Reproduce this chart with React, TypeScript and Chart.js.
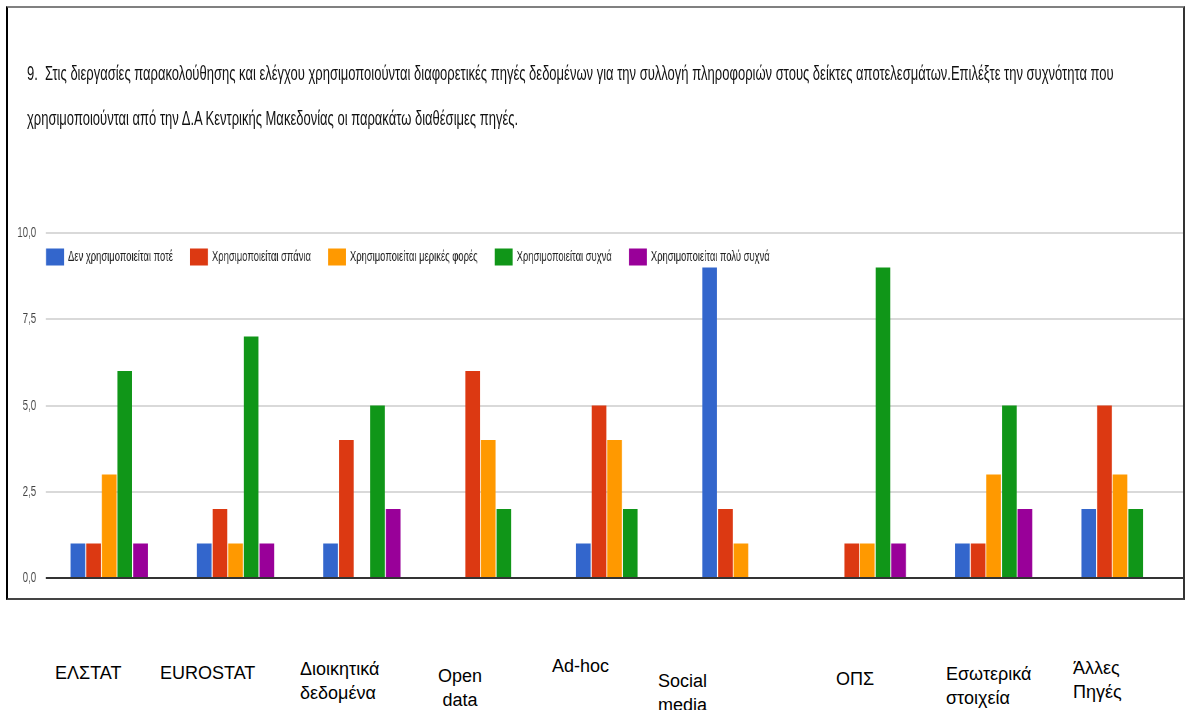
import React, { useEffect, useRef } from 'react';
import { Chart, registerables } from 'chart.js';

Chart.register(...registerables);

// ---------- data ----------
const CATEGORIES: string[][] = [
  ['ΕΛΣΤΑΤ'],
  ['EUROSTAT'],
  ['Διοικητικά', 'δεδομένα'],
  ['Open', 'data'],
  ['Ad-hoc'],
  ['Social', 'media'],
  ['ΟΠΣ'],
  ['Εσωτερικά', 'στοιχεία'],
  ['Άλλες', 'Πηγές'],
];
const SERIES_NAMES = [
  'Δεν χρησιμοποιείται ποτέ',
  'Χρησιμοποιείται σπάνια',
  'Χρησιμοποιείται μερικές φορές',
  'Χρησιμοποιείται συχνά',
  'Χρησιμοποιείται πολύ συχνά',
];
const NEVER = [1, 1, 1, 0, 1, 9, 0, 1, 2];
const RARELY = [1, 2, 4, 6, 5, 2, 1, 1, 5];
const SOMETIMES = [3, 1, 0, 4, 4, 1, 1, 3, 3];
const OFTEN = [6, 7, 5, 2, 2, 0, 9, 5, 2];
const VERY_OFTEN = [1, 1, 2, 0, 0, 0, 1, 2, 0];
const Y_TICKS = [0, 2.5, 5, 7.5, 10];
const TITLE_LINES = [
  '9.  Στις διεργασίες παρακολούθησης και ελέγχου χρησιμοποιούνται διαφορετικές πηγές δεδομένων για την συλλογή πληροφοριών στους δείκτες αποτελεσμάτων.Επιλέξτε την συχνότητα που',
  'χρησιμοποιούνται από την Δ.Α Κεντρικής Μακεδονίας οι παρακάτω διαθέσιμες πηγές.',
];

// ---------- styling / layout ----------
const COLORS = ['#3366cc', '#dc3912', '#ff9900', '#109618', '#990099'];
const FONT = "'Liberation Sans', Arial, sans-serif";
const SX = 0.65; // horizontal condensation of the chart drawing
const CSS_W = 1175;
const CSS_H = 590;
const CANVAS_W = Math.round(CSS_W / SX);
const PLOT_LEFT_CSS = 38;
const PLOT_TOP = 225;
const PLOT_BOTTOM_PAD = 20;

// positions of the category captions under the box (page px)
const CAPTION_POS = [
  { left: 55, top: 661, center: false },
  { left: 160, top: 661, center: false },
  { left: 300, top: 657, center: false },
  { left: 420, top: 664, center: true },
  { left: 552, top: 654, center: false },
  { left: 658, top: 669, center: false },
  { left: 836, top: 667, center: false },
  { left: 946, top: 662, center: false },
  { left: 1073, top: 656, center: false },
];

const inlineLegend = {
  id: 'inlineLegend',
  afterDatasetsDraw(chart: any) {
    const { ctx, chartArea } = chart;
    const boxW = 18 / SX;
    const boxH = 17;
    const textGap = 4 / SX;
    const itemGap = 17 / SX;
    const cy = chartArea.top + 24;
    let x = chartArea.left;
    ctx.save();
    ctx.font = `14.5px ${FONT}`;
    ctx.textBaseline = 'middle';
    ctx.textAlign = 'left';
    chart.data.datasets.forEach((ds: any) => {
      ctx.fillStyle = ds.backgroundColor;
      ctx.fillRect(x, cy - boxH / 2, boxW, boxH);
      x += boxW + textGap;
      ctx.fillStyle = '#222222';
      ctx.fillText(ds.label, x, cy);
      x += ctx.measureText(ds.label).width + itemGap;
    });
    ctx.restore();
  },
};

export default function App() {
  const canvasRef = useRef<HTMLCanvasElement | null>(null);

  useEffect(() => {
    const canvas = canvasRef.current;
    if (!canvas) return;
    const seriesValues = [NEVER, RARELY, SOMETIMES, OFTEN, VERY_OFTEN];
    const chart = new Chart(canvas, {
      type: 'bar',
      data: {
        labels: CATEGORIES,
        datasets: SERIES_NAMES.map((name, i) => ({
          label: name,
          data: seriesValues[i],
          backgroundColor: COLORS[i],
          borderWidth: 0,
          categoryPercentage: 0.618,
          barPercentage: 0.94,
        })),
      },
      options: {
        animation: false,
        responsive: false,
        devicePixelRatio: 1,
        layout: { padding: { top: PLOT_TOP, bottom: PLOT_BOTTOM_PAD, left: 0, right: 0 } },
        plugins: {
          legend: { display: false },
          title: { display: false },
          tooltip: { enabled: false },
        },
        scales: {
          x: {
            display: false,
            grid: { display: false },
          },
          y: {
            min: 0,
            max: 10,
            afterFit: (scale: any) => {
              scale.width = PLOT_LEFT_CSS / SX;
            },
            afterBuildTicks: (scale: any) => {
              scale.ticks = Y_TICKS.map((v) => ({ value: v }));
            },
            border: { display: false },
            grid: {
              drawTicks: false,
              color: (ctx: any) => (ctx.tick && ctx.tick.value === 0 ? '#333333' : '#d9d9d9'),
              lineWidth: 2,
            },
            ticks: {
              padding: 15,
              color: '#444444',
              font: { size: 15, family: FONT, lineHeight: 0.6 },
              callback: (v: any) => Number(v).toFixed(1).replace('.', ','),
            },
          },
        },
      },
      plugins: [inlineLegend],
    });
    return () => chart.destroy();
  }, []);

  return (
    <div
      style={{
        position: 'fixed',
        left: 0,
        top: 0,
        width: 1186,
        height: 710,
        overflow: 'hidden',
        background: '#ffffff',
      }}
    >
      <div
        style={{
          position: 'absolute',
          left: 6,
          top: 6,
          width: CSS_W,
          height: CSS_H,
          borderTop: '2px solid #808080',
          borderLeft: '2px solid #000000',
          borderRight: '2px solid #333333',
          borderBottom: '2px solid #444444',
          overflow: 'hidden',
        }}
      >
        <canvas
          ref={canvasRef}
          width={CANVAS_W}
          height={CSS_H}
          style={{
            position: 'absolute',
            left: 0,
            top: 0,
            transform: `scaleX(${SX})`,
            transformOrigin: '0 0',
          }}
        />
      </div>
      <div
        style={{
          position: 'absolute',
          left: 27,
          top: 51,
          fontFamily: FONT,
          fontSize: 20,
          lineHeight: '45px',
          color: '#111111',
          whiteSpace: 'pre',
          transform: `scaleX(${SX})`,
          transformOrigin: '0 0',
        }}
      >
        {TITLE_LINES.map((t, i) => (
          <div key={i}>{t}</div>
        ))}
      </div>
      {CATEGORIES.map((lines, i) => {
        const p = CAPTION_POS[i];
        return (
          <div
            key={i}
            style={{
              position: 'absolute',
              left: p.left,
              top: p.top,
              width: p.center ? 80 : undefined,
              textAlign: p.center ? 'center' : 'left',
              fontFamily: FONT,
              fontSize: 18,
              lineHeight: '24px',
              color: '#000000',
              whiteSpace: 'nowrap',
            }}
          >
            {lines.map((l, j) => (
              <div key={j}>{l}</div>
            ))}
          </div>
        );
      })}
    </div>
  );
}
